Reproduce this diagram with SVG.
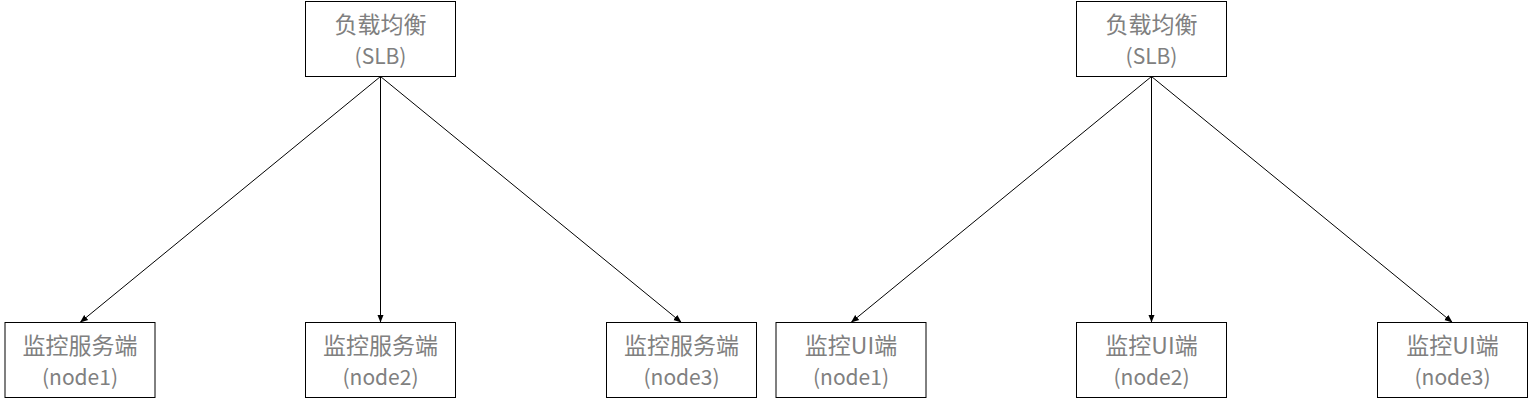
<svg xmlns="http://www.w3.org/2000/svg" width="1532" height="403" viewBox="0 0 1532 403">
<style>
.box{fill:#fff;stroke:#000;stroke-width:1}
.t{font-family:"Noto Sans CJK SC","Noto Sans",sans-serif;font-size:21px;fill:#808080;text-anchor:middle}
.z{font-size:23px}
.c{stroke:#000;stroke-width:1;fill:none;marker-end:url(#ah)}
</style>
<defs>
<marker id="ah" markerWidth="8" markerHeight="8" viewBox="0 0 8 8" refX="8" refY="4" orient="auto" markerUnits="userSpaceOnUse">
<path d="M0,0.8 L8,4 L0,7.2 Z" fill="#000"/>
</marker>
</defs>
<rect width="1532" height="403" fill="#fff"/>
<g id="connectors">
<line class="c" x1="380.5" y1="76.5" x2="80" y2="322.5"/>
<line class="c" x1="380.5" y1="76.5" x2="380.5" y2="322.5"/>
<line class="c" x1="380.5" y1="76.5" x2="681.5" y2="322.5"/>
<line class="c" x1="1151.5" y1="76.5" x2="851" y2="322.5"/>
<line class="c" x1="1151.5" y1="76.5" x2="1151.5" y2="322.5"/>
<line class="c" x1="1151.5" y1="76.5" x2="1452.5" y2="322.5"/>
</g>
<g id="slb1"><rect class="box" x="305.5" y="1.5" width="150" height="75"/><text class="t z" x="380.5" y="33">负载均衡</text><text class="t" x="380.5" y="64">(SLB)</text></g>
<g id="srv1"><rect class="box" x="5" y="322.5" width="150" height="75"/><text class="t z" x="80" y="354">监控服务端</text><text class="t" x="80" y="385">(node1)</text></g>
<g id="srv2"><rect class="box" x="305.5" y="322.5" width="150" height="75"/><text class="t z" x="380.5" y="354">监控服务端</text><text class="t" x="380.5" y="385">(node2)</text></g>
<g id="srv3"><rect class="box" x="606.5" y="322.5" width="150" height="75"/><text class="t z" x="681.5" y="354">监控服务端</text><text class="t" x="681.5" y="385">(node3)</text></g>
<g id="slb2"><rect class="box" x="1076.5" y="1.5" width="150" height="75"/><text class="t z" x="1151.5" y="33">负载均衡</text><text class="t" x="1151.5" y="64">(SLB)</text></g>
<g id="ui1"><rect class="box" x="776" y="322.5" width="150" height="75"/><text class="t z" x="851" y="354">监控UI端</text><text class="t" x="851" y="385">(node1)</text></g>
<g id="ui2"><rect class="box" x="1076.5" y="322.5" width="150" height="75"/><text class="t z" x="1151.5" y="354">监控UI端</text><text class="t" x="1151.5" y="385">(node2)</text></g>
<g id="ui3"><rect class="box" x="1377.5" y="322.5" width="150" height="75"/><text class="t z" x="1452.5" y="354">监控UI端</text><text class="t" x="1452.5" y="385">(node3)</text></g>
</svg>
